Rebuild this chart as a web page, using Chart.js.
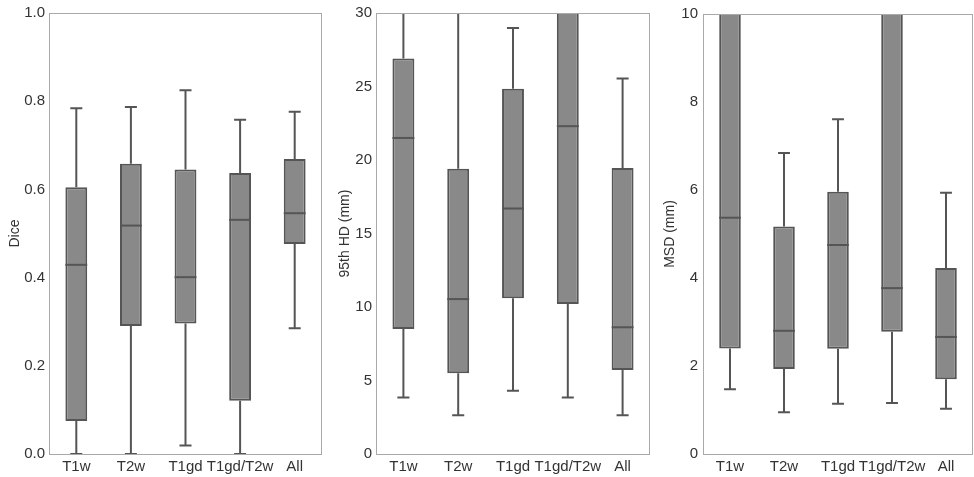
<!DOCTYPE html>
<html>
<head>
<meta charset="utf-8">
<script src="https://cdn.jsdelivr.net/npm/chart.js@4.4.0/dist/chart.umd.min.js"></script>
<style>
  html, body { margin: 0; padding: 0; background: #fff; }
  body { width: 974px; height: 477px; position: relative; overflow: hidden; }
  .panel { position: absolute; top: 0; height: 477px; }
</style>
</head>
<body>
<div class="panel" style="left:0;width:325px"><canvas id="c1"></canvas></div>
<div class="panel" style="left:330px;width:322px"><canvas id="c2"></canvas></div>
<div class="panel" style="left:655px;width:319px"><canvas id="c3"></canvas></div>
<script>
var categories = ['T1w', 'T2w', 'T1gd', 'T1gd/T2w', 'All'];

// Dice
var diceLow    = [0.0,   0.0,   0.019, 0.0,   0.285];
var diceQ1     = [0.075, 0.29,  0.296, 0.121, 0.476];
var diceMedian = [0.429, 0.518, 0.401, 0.531, 0.546];
var diceQ3     = [0.605, 0.658, 0.645, 0.637, 0.669];
var diceHigh   = [0.784, 0.787, 0.825, 0.758, 0.776];

// 95th HD (mm) - values above 30 run off the top of the axis
var hdLow    = [3.84, 2.64, 4.31, 3.84, 2.64];
var hdQ1     = [8.5,  5.5,  10.6, 10.2, 5.71];
var hdMedian = [21.5, 10.54, 16.7, 22.3, 8.62];
var hdQ3     = [26.9, 19.4, 24.85, 34,  19.45];
var hdHigh   = [38,   36,   28.98, 45,  25.55];

// MSD (mm) - values above 10 run off the top of the axis
var msdLow    = [1.47, 0.95, 1.14, 1.16, 1.03];
var msdQ1     = [2.40, 1.93, 2.39, 2.78, 1.70];
var msdMedian = [5.37, 2.80, 4.75, 3.77, 2.66];
var msdQ3     = [11.5, 5.17, 5.96, 12.5, 4.23];
var msdHigh   = [15,   6.84, 7.61, 17,   5.94];

var boxFill = '#898989';
var boxLine = '#555555';
var frameColor = '#a9a9a9';
var textColor = '#333333';
var fontFamily = '"Liberation Sans", Arial, sans-serif';

var boxPlugin = {
  id: 'boxplot',
  beforeDatasetsDraw: function(chart) {
    var o = chart.options.plugins.boxplot;
    var y = chart.scales.y;
    var meta = chart.getDatasetMeta(0);
    var ctx = chart.ctx;
    var area = chart.chartArea;
    ctx.save();
    ctx.beginPath();
    ctx.rect(area.left, area.top, area.right - area.left, area.bottom - area.top);
    ctx.clip();
    ctx.strokeStyle = boxLine;
    ctx.lineWidth = 2;
    meta.data.forEach(function(bar, i) {
      var cap = bar.width * 0.55;
      var yl = y.getPixelForValue(o.low[i]);
      var yq1 = y.getPixelForValue(o.q1[i]);
      var yq3 = y.getPixelForValue(o.q3[i]);
      var yh = y.getPixelForValue(o.high[i]);
      ctx.beginPath();
      ctx.moveTo(bar.x, yl); ctx.lineTo(bar.x, yq1);
      ctx.moveTo(bar.x, yq3); ctx.lineTo(bar.x, yh);
      ctx.moveTo(bar.x - cap / 2, yl); ctx.lineTo(bar.x + cap / 2, yl);
      ctx.moveTo(bar.x - cap / 2, yh); ctx.lineTo(bar.x + cap / 2, yh);
      ctx.stroke();
    });
    ctx.restore();
  },
  afterDatasetsDraw: function(chart) {
    var o = chart.options.plugins.boxplot;
    var y = chart.scales.y;
    var meta = chart.getDatasetMeta(0);
    var ctx = chart.ctx;
    var area = chart.chartArea;
    ctx.save();
    ctx.strokeStyle = boxLine;
    ctx.lineWidth = 2;
    meta.data.forEach(function(bar, i) {
      var ym = y.getPixelForValue(o.median[i]);
      ctx.beginPath();
      ctx.moveTo(bar.x - bar.width / 2, ym);
      ctx.lineTo(bar.x + bar.width / 2, ym);
      ctx.stroke();
    });
    // plot frame
    ctx.strokeStyle = frameColor;
    ctx.lineWidth = 1;
    ctx.strokeRect(Math.round(area.left) + 0.5, Math.round(area.top) + 0.5,
      Math.round(area.right - area.left) - 1, Math.round(area.bottom - area.top));
    ctx.restore();
  }
};

function makeChart(id, title, low, q1, med, q3, high, max, step, decimals, yWidth, padRight, titlePad, tickPad) {
  var boxes = q1.map(function(v, i) { return [v, q3[i]]; });
  return new Chart(document.getElementById(id), {
    type: 'bar',
    data: {
      labels: categories,
      datasets: [{
        data: boxes,
        backgroundColor: boxFill,
        borderColor: boxLine,
        borderWidth: 2,
        borderSkipped: false,
        barPercentage: 0.4,
        categoryPercentage: 1.0
      }]
    },
    options: {
      responsive: true,
      maintainAspectRatio: false,
      animation: false,
      layout: { padding: { top: 11, right: padRight, bottom: 0, left: 0 } },
      plugins: {
        legend: { display: false },
        tooltip: { enabled: false },
        boxplot: { low: low, q1: q1, median: med, q3: q3, high: high }
      },
      scales: {
        x: {
          grid: { display: false, drawTicks: false },
          border: { display: false },
          ticks: { color: textColor, font: { family: fontFamily, size: 15 }, padding: 4, maxRotation: 0, autoSkip: false },
          afterFit: function(s) { s.height = 23; }
        },
        y: {
          min: 0,
          max: max,
          grid: { display: false, drawTicks: false },
          border: { display: false },
          ticks: {
            stepSize: step,
            color: textColor,
            padding: tickPad,
            font: { family: fontFamily, size: 15 },
            callback: function(v) { return Number(v).toFixed(decimals); }
          },
          title: {
            display: true,
            text: title,
            color: textColor,
            font: { family: fontFamily, size: 14 },
            padding: { top: titlePad, bottom: 0 }
          },
          afterFit: function(s) { s.width = yWidth; }
        }
      }
    },
    plugins: [boxPlugin]
  });
}

makeChart('c1', 'Dice', diceLow, diceQ1, diceMedian, diceQ3, diceHigh, 1.0, 0.2, 1, 49, 3, 6.5, 4);
makeChart('c2', '95th HD (mm)', hdLow, hdQ1, hdMedian, hdQ3, hdHigh, 30, 5, 0, 46, 2, 6.5, 4);
makeChart('c3', 'MSD (mm)', msdLow, msdQ1, msdMedian, msdQ3, msdHigh, 10, 2, 0, 48, 1, 6.5, 5);
</script>
</body>
</html>
